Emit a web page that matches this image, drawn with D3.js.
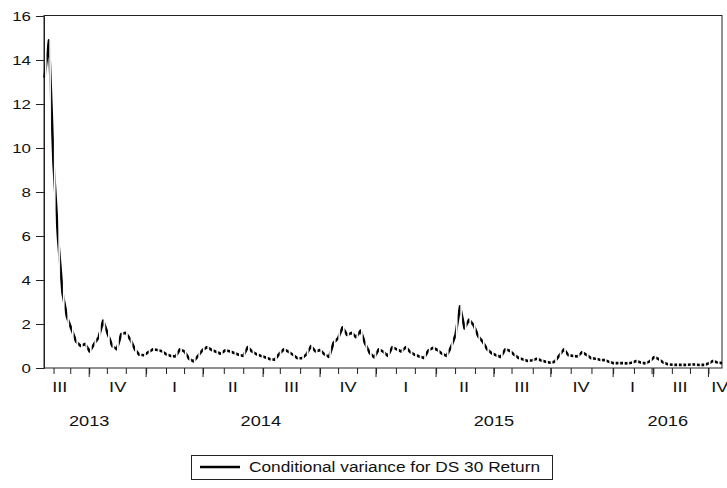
<!DOCTYPE html>
<html>
<head>
<meta charset="utf-8">
<script src="https://cdn.jsdelivr.net/npm/d3@7/dist/d3.min.js"></script>
<style>
  body { margin: 0; background: #fff; }
  svg { display: block; font-family: "Liberation Sans", Arial, sans-serif; }
</style>
</head>
<body>
<svg id="chart"></svg>
<script>
// conditional variance, one value per week (week 0 = late July 2013)
const variance = [
  13.2, 14.9, 9.3, 5.9, 3.4, 2.3, 1.75, 1.2, 1.0, 1.1,
  0.75, 1.1, 1.4, 2.15, 1.55, 1.0, 0.85, 1.55, 1.6, 1.3,
  0.85, 0.6, 0.58, 0.72, 0.85, 0.82, 0.76, 0.62, 0.55, 0.52,
  0.85, 0.75, 0.42, 0.3, 0.55, 0.82, 0.95, 0.82, 0.74, 0.65,
  0.8, 0.76, 0.68, 0.6, 0.55, 0.95, 0.74, 0.62, 0.55, 0.48,
  0.4, 0.38, 0.65, 0.85, 0.74, 0.6, 0.44, 0.44, 0.62, 1.0,
  0.75, 0.82, 0.62, 0.5, 1.15, 1.35, 1.85, 1.5, 1.6, 1.4,
  1.7, 1.1, 0.68, 0.48, 0.85, 0.74, 0.55, 0.95, 0.85, 0.75,
  0.95, 0.72, 0.6, 0.52, 0.45, 0.8, 0.92, 0.82, 0.65, 0.55,
  0.95, 1.5, 2.8, 1.8, 2.2, 1.95, 1.45, 1.2, 0.85, 0.67,
  0.58, 0.5, 0.85, 0.78, 0.6, 0.45, 0.39, 0.32, 0.35, 0.42,
  0.34, 0.28, 0.24, 0.29, 0.58, 0.85, 0.58, 0.55, 0.52, 0.72,
  0.6, 0.45, 0.42, 0.37, 0.36, 0.28, 0.22, 0.23, 0.22, 0.21,
  0.24, 0.32, 0.25, 0.21, 0.3, 0.5, 0.4, 0.25, 0.17, 0.15,
  0.14, 0.14, 0.14, 0.16, 0.16, 0.14, 0.14, 0.2, 0.32, 0.25,
  0.22
];

const yTicks = [0, 2, 4, 6, 8, 10, 12, 14, 16];

// axis ticks, in weeks from the first observation
const monthTicks = [2, 5.7, 9.9, 13.8, 18, 22.5, 26.9, 30.9, 35.1, 39.7, 44, 48.4,
  52.1, 56.6, 61, 65, 69.2, 73.4, 77.8, 82, 86.7, 90.9, 95.3, 99.5,
  103.4, 108.1, 112.1, 116.5, 121.1, 125.9, 130.5, 134.4, 134.8, 138.9, 142.9, 147];
const quarterTicks = [9.9, 22.5, 35.1, 48.4, 61, 73.4, 86.7, 99.5, 112.1, 125.9, 134.8, 147];

const quarterLabels = ['III', 'IV', 'I', 'II', 'III', 'IV', 'I', 'II', 'III', 'IV', 'I', 'III', 'IV'];
const quarterPos = [3.4, 16.2, 28.8, 41.7, 54.7, 67.2, 80, 92.9, 105.7, 118.8, 130.2, 140.7, 149.5];
const yearLabels = ['2013', '2014', '2015', '2016'];
const yearPos = [9.9, 47.9, 99.5, 138];

const seriesName = 'Conditional variance for DS 30 Return';

const width = 727, height = 488;
const m = { left: 44, right: 722, top: 16, bottom: 368 };

const svg = d3.select('#chart').attr('width', width).attr('height', height);
svg.append('rect').attr('width', width).attr('height', height).attr('fill', '#fff');

const x = d3.scaleLinear().domain([0, variance.length - 1]).range([m.left + 0.5, m.right]);
const y = d3.scaleLinear().domain([0, 16]).range([m.bottom, m.top]);

// EViews leaves the weekend NAs as breaks in the line -> short gap every week
const step = x(1) - x(0);
const defs = svg.append('defs');
const pat = defs.append('pattern')
  .attr('id', 'weekGaps')
  .attr('patternUnits', 'userSpaceOnUse')
  .attr('x', x(0) + 0.3).attr('y', 0)
  .attr('width', step).attr('height', height);
pat.append('rect').attr('width', step).attr('height', height).attr('fill', '#fff');
pat.append('rect').attr('width', 1.7).attr('height', height).attr('fill', '#000');
defs.append('mask')
  .attr('id', 'gapMask')
  .attr('maskUnits', 'userSpaceOnUse')
  .attr('x', 0).attr('y', 0).attr('width', width).attr('height', height)
  .append('rect')
  .attr('width', width).attr('height', height)
  .attr('fill', 'url(#weekGaps)');

// frame
svg.append('rect')
  .attr('x', m.left).attr('y', m.top - 0.5)
  .attr('width', m.right - m.left).attr('height', m.bottom - m.top + 0.5)
  .attr('fill', 'none').attr('stroke', '#222').attr('stroke-width', 1);

// y axis
const yAxis = svg.append('g').attr('transform', `translate(${m.left},0)`)
  .call(d3.axisLeft(y).tickValues(yTicks).tickSize(8).tickFormat(d3.format('d')));
yAxis.select('.domain').attr('stroke', '#222');
yAxis.selectAll('.tick line').attr('stroke', '#222');
yAxis.selectAll('.tick text')
  .attr('x', null).attr('dy', null)
  .attr('font-size', 13).attr('fill', '#111')
  .attr('transform', 'translate(-13,4.5) scale(1.3,1)');

// x axis: month ticks, longer ticks at quarter starts
const xAxis = svg.append('g').attr('transform', `translate(0,${m.bottom})`)
  .call(d3.axisBottom(x).tickValues(monthTicks).tickSize(6).tickFormat(''));
xAxis.select('.domain').remove();
xAxis.selectAll('.tick line').attr('stroke', '#222');
svg.append('g').attr('transform', `translate(0,${m.bottom})`)
  .selectAll('line').data(quarterTicks).enter().append('line')
  .attr('x1', d => x(d)).attr('x2', d => x(d))
  .attr('y1', 0).attr('y2', 9)
  .attr('stroke', '#222');

svg.append('g').selectAll('text').data(quarterLabels).enter().append('text')
  .attr('transform', (d, i) => `translate(${x(quarterPos[i])},392) scale(1.3,1)`)
  .attr('text-anchor', 'middle').attr('font-size', 14).attr('fill', '#111')
  .text(d => d);

svg.append('g').selectAll('text').data(yearLabels).enter().append('text')
  .attr('transform', (d, i) => `translate(${x(yearPos[i])},426) scale(1.3,1)`)
  .attr('text-anchor', 'middle').attr('font-size', 14).attr('fill', '#111')
  .text(d => d);

// series
const line = d3.line().x((d, i) => x(i)).y(d => y(d));
svg.append('path')
  .datum(variance)
  .attr('d', line)
  .attr('fill', 'none')
  .attr('stroke', '#000')
  .attr('stroke-width', 2.6)
  .attr('stroke-linejoin', 'round')
  .attr('mask', 'url(#gapMask)');

// legend
const lg = svg.append('g');
lg.append('rect')
  .attr('x', 191.5).attr('y', 455.5).attr('width', 361).attr('height', 24)
  .attr('fill', '#fff').attr('stroke', '#222');
lg.append('line')
  .attr('x1', 200).attr('x2', 240).attr('y1', 467).attr('y2', 467)
  .attr('stroke', '#000').attr('stroke-width', 2.6);
lg.append('text')
  .attr('x', 249).attr('y', 472)
  .attr('font-size', 14).attr('fill', '#111')
  .attr('textLength', 291).attr('lengthAdjust', 'spacingAndGlyphs')
  .text(seriesName);
</script>
</body>
</html>
